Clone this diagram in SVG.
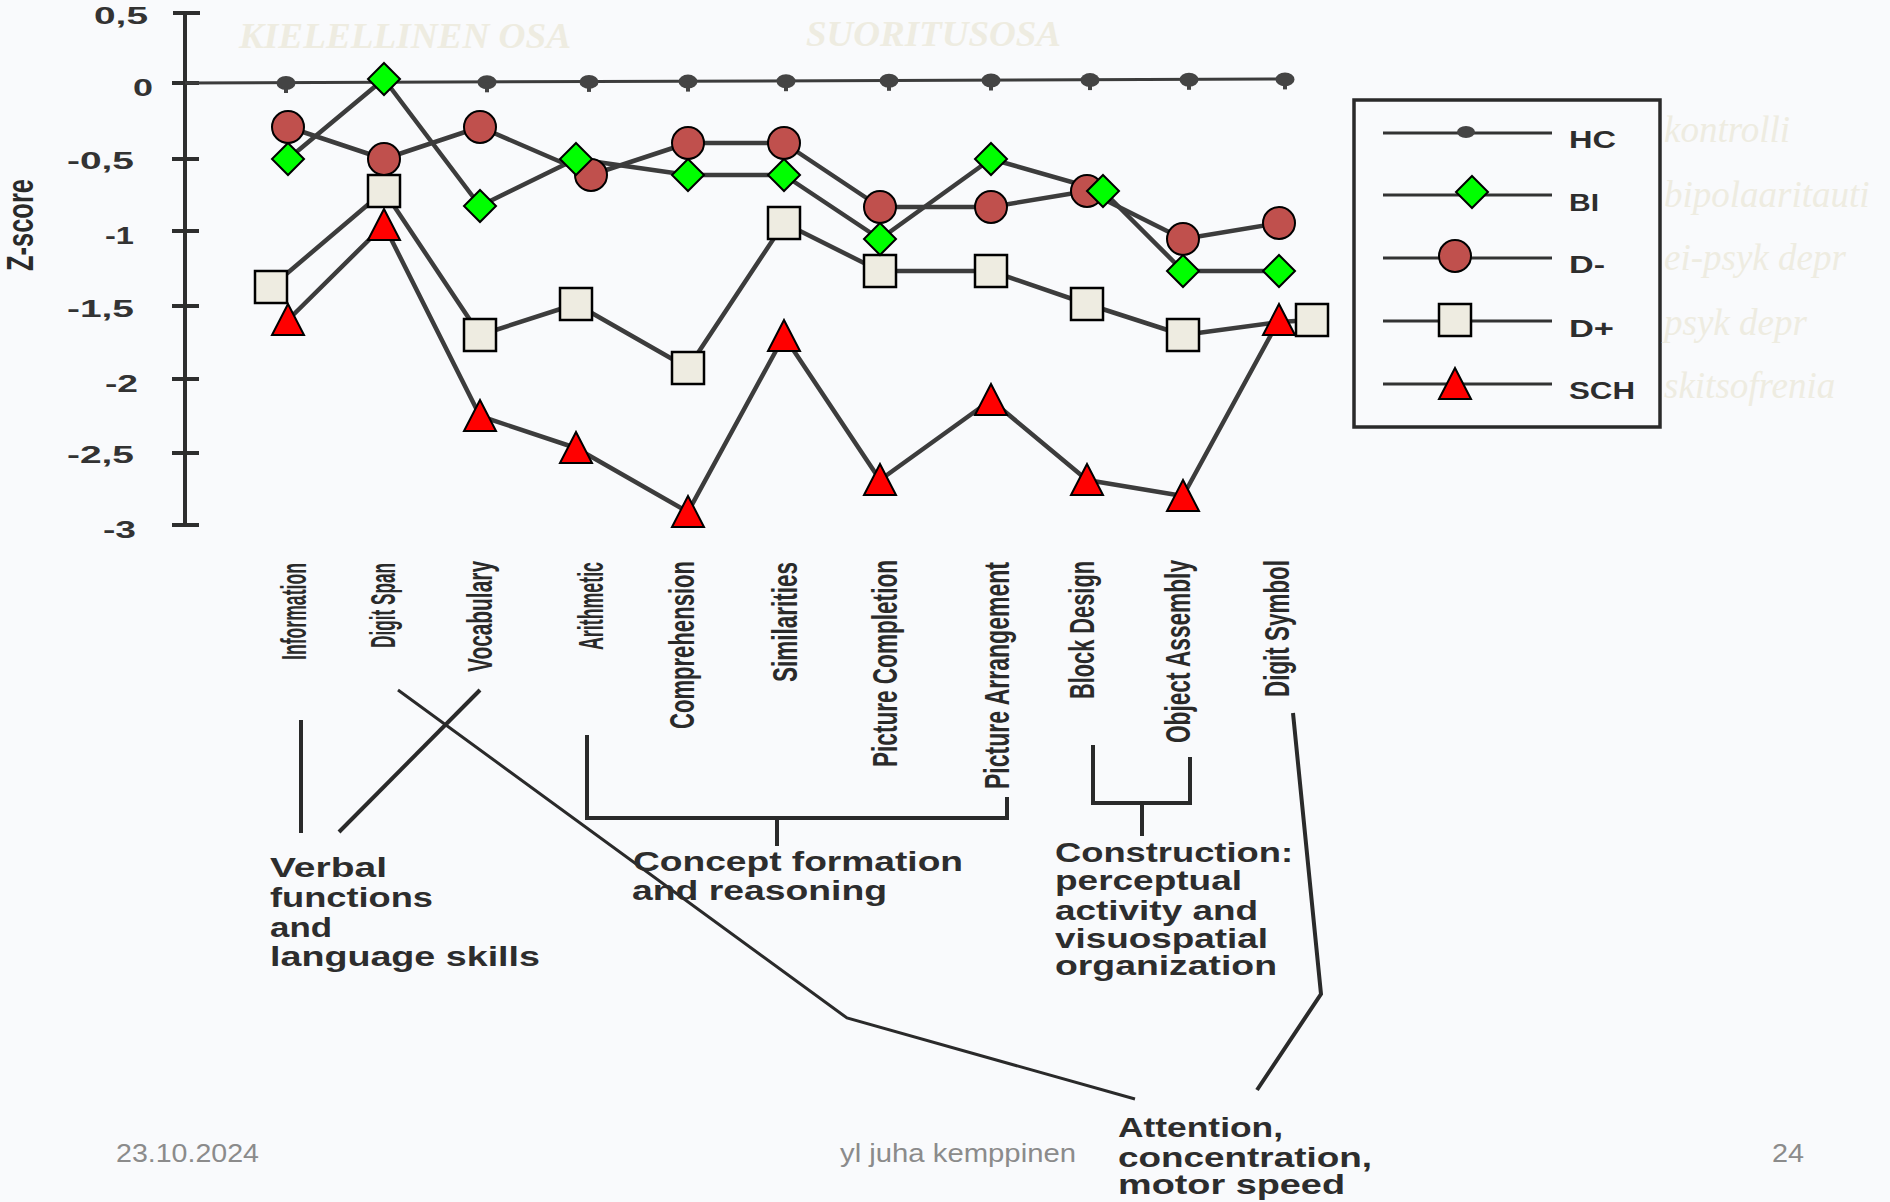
<svg xmlns="http://www.w3.org/2000/svg" width="1890" height="1202" viewBox="0 0 1890 1202">
  <style>
    .axis { stroke: #2e2e2e; stroke-width: 4; fill: none; stroke-linecap: square; }
    .tick { font-family: "Liberation Sans", Arial, sans-serif; font-weight: bold; font-size: 24px; fill: #333; }
    .ytitle { font-family: "Liberation Sans", Arial, sans-serif; font-weight: bold; font-size: 36px; fill: #2a2a2a; }
    .series { stroke: #3c3c3c; stroke-width: 4.5; fill: none; stroke-linejoin: round; }
    .hcline { stroke: #3c3c3c; stroke-width: 3; fill: none; }
    .hcdot { fill: #444; }
    .bi { fill: #00ff00; stroke: #000; stroke-width: 2; }
    .dm { fill: #c0504d; stroke: #000; stroke-width: 2; }
    .dp { fill: #eeece1; stroke: #000; stroke-width: 2.5; }
    .sch { fill: #ff0000; stroke: #000; stroke-width: 2; }
    .cat { font-family: "Liberation Sans", Arial, sans-serif; font-weight: bold; font-size: 35px; fill: #2a2a2a; }
    .grp { font-family: "Liberation Sans", Arial, sans-serif; font-weight: bold; font-size: 28px; fill: #2d2d2d; }
    .leg { font-family: "Liberation Sans", Arial, sans-serif; font-weight: bold; font-size: 24px; fill: #2d2d2d; }
    .legline { stroke: #333; stroke-width: 3; }
    .box { stroke: #2a2a2a; stroke-width: 3.5; fill: none; }
    .ghost { font-family: "Liberation Serif", "Times New Roman", serif; font-style: italic; font-size: 37px; fill: #eeece1; }
    .ghostb { font-family: "Liberation Serif", "Times New Roman", serif; font-style: italic; font-weight: bold; font-size: 36px; fill: #eeece1; }
    .conn { stroke: #2a2a2a; stroke-width: 4; fill: none; stroke-linejoin: miter; }
    .thin { stroke: #2a2a2a; stroke-width: 3; fill: none; }
    .foot { font-family: "Liberation Sans", Arial, sans-serif; font-size: 26px; fill: #8b8b8b; }
  </style>
  <defs>
    <path id="mBI" d="M0,-16 L16,0 L0,16 L-16,0 Z"/>
    <circle id="mDM" r="16"/>
    <rect id="mDP" x="-16" y="-16" width="32" height="32"/>
    <path id="mSCH" d="M0,-16 L16,15 L-16,15 Z"/>
    <g id="hcpin">
      <ellipse cx="0" cy="0" rx="9.5" ry="7"/>
      <rect x="-2" y="0" width="4" height="10"/>
    </g>
  </defs>

  <!-- page -->
  <rect width="1890" height="1202" fill="#f9fafc"/>

  <!-- faint headings over the two test halves -->
  <g id="headings">
    <text class="ghostb" x="239" y="48" textLength="332" lengthAdjust="spacingAndGlyphs">KIELELLINEN OSA</text>
    <text class="ghostb" x="806" y="46" textLength="255" lengthAdjust="spacingAndGlyphs">SUORITUSOSA</text>
  </g>

  <!-- y axis -->
  <g id="y-axis">
    <line class="axis" x1="185" y1="13" x2="185" y2="525"/>
    <path class="axis" d="M175,13H198 M174,83H197 M174,159H197 M174,231H197 M174,306H197 M174,379H197 M174,453H197 M174,525H197"/>
    <text class="tick" x="94" y="24" textLength="54" lengthAdjust="spacingAndGlyphs">0,5</text>
    <text class="tick" x="133" y="96" textLength="20" lengthAdjust="spacingAndGlyphs">0</text>
    <text class="tick" x="67" y="169" textLength="67" lengthAdjust="spacingAndGlyphs">-0,5</text>
    <text class="tick" x="105" y="244" textLength="29" lengthAdjust="spacingAndGlyphs">-1</text>
    <text class="tick" x="67" y="317" textLength="67" lengthAdjust="spacingAndGlyphs">-1,5</text>
    <text class="tick" x="105" y="392" textLength="33" lengthAdjust="spacingAndGlyphs">-2</text>
    <text class="tick" x="67" y="463" textLength="67" lengthAdjust="spacingAndGlyphs">-2,5</text>
    <text class="tick" x="103" y="538" textLength="33" lengthAdjust="spacingAndGlyphs">-3</text>
    <text class="ytitle" transform="translate(33,225) rotate(-90)" text-anchor="middle" textLength="92" lengthAdjust="spacingAndGlyphs">Z-score</text>
  </g>

  <!-- data series -->
  <g id="series-HC">
    <polyline class="hcline" points="185,83 1285,79"/>
    <g class="hcdot">
      <use href="#hcpin" x="286" y="83"/>
      <use href="#hcpin" x="384" y="82.6"/>
      <use href="#hcpin" x="487" y="82.3"/>
      <use href="#hcpin" x="589" y="81.9"/>
      <use href="#hcpin" x="688" y="81.6"/>
      <use href="#hcpin" x="786" y="81.2"/>
      <use href="#hcpin" x="889" y="80.8"/>
      <use href="#hcpin" x="991" y="80.5"/>
      <use href="#hcpin" x="1090" y="80.1"/>
      <use href="#hcpin" x="1189" y="79.8"/>
      <use href="#hcpin" x="1285" y="79.4"/>
    </g>
  </g>

  <g id="series-lines">
    <polyline class="series" points="288,159 384,79 480,206 576,159 688,175 784,175 880,239 991,159 1103,191 1183,271 1279,271"/>
    <polyline class="series" points="288,127 384,159 480,127 591,175 688,143 784,143 880,207 991,207 1087,191 1183,239 1279,223"/>
    <polyline class="series" points="271,287 384,191 480,335 576,304 688,368 784,223 880,271 991,271 1087,304 1183,335 1279,322 1312,320"/>
    <polyline class="series" points="288,320 384,225 480,416 576,448 688,512 784,336 880,480 991,400 1087,480 1183,496 1279,320"/>
  </g>

  <g id="series-Dplus" class="dp">
    <use href="#mDP" x="271" y="287"/>
    <use href="#mDP" x="384" y="191"/>
    <use href="#mDP" x="480" y="335"/>
    <use href="#mDP" x="576" y="304"/>
    <use href="#mDP" x="688" y="368"/>
    <use href="#mDP" x="784" y="223"/>
    <use href="#mDP" x="880" y="271"/>
    <use href="#mDP" x="991" y="271"/>
    <use href="#mDP" x="1087" y="304"/>
    <use href="#mDP" x="1183" y="335"/>
    <use href="#mDP" x="1312" y="320"/>
  </g>
  <g id="series-SCH" class="sch">
    <use href="#mSCH" x="288" y="320"/>
    <use href="#mSCH" x="384" y="225"/>
    <use href="#mSCH" x="480" y="416"/>
    <use href="#mSCH" x="576" y="448"/>
    <use href="#mSCH" x="688" y="512"/>
    <use href="#mSCH" x="784" y="336"/>
    <use href="#mSCH" x="880" y="480"/>
    <use href="#mSCH" x="991" y="400"/>
    <use href="#mSCH" x="1087" y="480"/>
    <use href="#mSCH" x="1183" y="496"/>
    <use href="#mSCH" x="1279" y="320"/>
  </g>
  <g id="series-Dminus" class="dm">
    <use href="#mDM" x="288" y="127"/>
    <use href="#mDM" x="384" y="159"/>
    <use href="#mDM" x="480" y="127"/>
    <use href="#mDM" x="591" y="175"/>
    <use href="#mDM" x="688" y="143"/>
    <use href="#mDM" x="784" y="143"/>
    <use href="#mDM" x="880" y="207"/>
    <use href="#mDM" x="991" y="207"/>
    <use href="#mDM" x="1087" y="191"/>
    <use href="#mDM" x="1183" y="239"/>
    <use href="#mDM" x="1279" y="223"/>
  </g>
  <g id="series-BI" class="bi">
    <use href="#mBI" x="288" y="159"/>
    <use href="#mBI" x="384" y="79"/>
    <use href="#mBI" x="480" y="206"/>
    <use href="#mBI" x="576" y="159"/>
    <use href="#mBI" x="688" y="175"/>
    <use href="#mBI" x="784" y="175"/>
    <use href="#mBI" x="880" y="239"/>
    <use href="#mBI" x="991" y="159"/>
    <use href="#mBI" x="1103" y="191"/>
    <use href="#mBI" x="1183" y="271"/>
    <use href="#mBI" x="1279" y="271"/>
  </g>

  <!-- legend -->
  <g id="legend">
    <rect class="box" x="1354" y="100" width="306" height="327"/>
    <path class="legline" d="M1383,133H1552 M1383,195H1552 M1383,258H1552 M1383,321H1552 M1383,384H1552"/>
    <ellipse cx="1466" cy="132" rx="9" ry="6" fill="#444"/>
    <use href="#mBI" x="1472" y="192" class="bi"/>
    <use href="#mDM" x="1455" y="256" class="dm"/>
    <use href="#mDP" x="1455" y="320" class="dp"/>
    <use href="#mSCH" x="1455" y="384" class="sch"/>
    <text class="leg" x="1569" y="148" textLength="47" lengthAdjust="spacingAndGlyphs">HC</text>
    <text class="leg" x="1569" y="211" textLength="30" lengthAdjust="spacingAndGlyphs">BI</text>
    <text class="leg" x="1569" y="273" textLength="36" lengthAdjust="spacingAndGlyphs">D-</text>
    <text class="leg" x="1569" y="337" textLength="45" lengthAdjust="spacingAndGlyphs">D+</text>
    <text class="leg" x="1569" y="399" textLength="66" lengthAdjust="spacingAndGlyphs">SCH</text>
  </g>
  <g id="legend-notes">
    <text class="ghost" x="1664" y="142">kontrolli</text>
    <text class="ghost" x="1664" y="207">bipolaaritauti</text>
    <text class="ghost" x="1664" y="270">ei-psyk depr</text>
    <text class="ghost" x="1664" y="335">psyk depr</text>
    <text class="ghost" x="1664" y="398">skitsofrenia</text>
  </g>

  <!-- subtest names -->
  <g id="subtests" text-anchor="end">
    <text class="cat" transform="translate(306,563) rotate(-90)" textLength="97" lengthAdjust="spacingAndGlyphs">Information</text>
    <text class="cat" transform="translate(395,563) rotate(-90)" textLength="85" lengthAdjust="spacingAndGlyphs">Digit Span</text>
    <text class="cat" transform="translate(492,561) rotate(-90)" textLength="111" lengthAdjust="spacingAndGlyphs">Vocabulary</text>
    <text class="cat" transform="translate(603,562) rotate(-90)" textLength="88" lengthAdjust="spacingAndGlyphs">Arithmetic</text>
    <text class="cat" transform="translate(694,561) rotate(-90)" textLength="168" lengthAdjust="spacingAndGlyphs">Comprehension</text>
    <text class="cat" transform="translate(797,562) rotate(-90)" textLength="120" lengthAdjust="spacingAndGlyphs">Similarities</text>
    <text class="cat" transform="translate(897,560) rotate(-90)" textLength="207" lengthAdjust="spacingAndGlyphs">Picture Completion</text>
    <text class="cat" transform="translate(1009,562) rotate(-90)" textLength="227" lengthAdjust="spacingAndGlyphs">Picture Arrangement</text>
    <text class="cat" transform="translate(1094,561) rotate(-90)" textLength="138" lengthAdjust="spacingAndGlyphs">Block Design</text>
    <text class="cat" transform="translate(1190,560) rotate(-90)" textLength="183" lengthAdjust="spacingAndGlyphs">Object Assembly</text>
    <text class="cat" transform="translate(1289,560) rotate(-90)" textLength="137" lengthAdjust="spacingAndGlyphs">Digit Symbol</text>
  </g>

  <!-- brackets and leader lines grouping the subtests -->
  <g id="connectors">
    <line class="conn" x1="301" y1="720" x2="301" y2="833"/>
    <line class="conn" x1="480" y1="690" x2="339" y2="832"/>
    <polyline class="thin" points="398,690 847,1018 1135,1099"/>
    <path class="conn" d="M587,735 V818 H1007 V797 M777,818 V846"/>
    <path class="conn" d="M1093,745 V803 H1190 V757 M1142,803 V836"/>
    <polyline class="conn" points="1293,713 1321,994 1257,1090"/>
  </g>

  <!-- ability groups -->
  <g id="group-verbal">
    <text class="grp" x="270" y="877" textLength="117" lengthAdjust="spacingAndGlyphs">Verbal</text>
    <text class="grp" x="270" y="907" textLength="163" lengthAdjust="spacingAndGlyphs">functions</text>
    <text class="grp" x="270" y="937" textLength="62" lengthAdjust="spacingAndGlyphs">and</text>
    <text class="grp" x="270" y="966" textLength="270" lengthAdjust="spacingAndGlyphs">language skills</text>
  </g>
  <g id="group-concept">
    <text class="grp" x="633" y="871" textLength="330" lengthAdjust="spacingAndGlyphs">Concept formation</text>
    <text class="grp" x="632" y="900" textLength="255" lengthAdjust="spacingAndGlyphs">and reasoning</text>
  </g>
  <g id="group-construction">
    <text class="grp" x="1055" y="862" textLength="238" lengthAdjust="spacingAndGlyphs">Construction:</text>
    <text class="grp" x="1055" y="890" textLength="187" lengthAdjust="spacingAndGlyphs">perceptual</text>
    <text class="grp" x="1055" y="920" textLength="203" lengthAdjust="spacingAndGlyphs">activity and</text>
    <text class="grp" x="1055" y="948" textLength="213" lengthAdjust="spacingAndGlyphs">visuospatial</text>
    <text class="grp" x="1055" y="975" textLength="222" lengthAdjust="spacingAndGlyphs">organization</text>
  </g>
  <g id="group-attention">
    <text class="grp" x="1118" y="1137" textLength="165" lengthAdjust="spacingAndGlyphs">Attention,</text>
    <text class="grp" x="1118" y="1167" textLength="254" lengthAdjust="spacingAndGlyphs">concentration,</text>
    <text class="grp" x="1118" y="1194" textLength="227" lengthAdjust="spacingAndGlyphs">motor speed</text>
  </g>

  <!-- slide footer -->
  <g id="footer">
    <text class="foot" x="116" y="1162" textLength="143" lengthAdjust="spacingAndGlyphs">23.10.2024</text>
    <text class="foot" x="840" y="1162" textLength="236" lengthAdjust="spacingAndGlyphs">yl juha kemppinen</text>
    <text class="foot" x="1772" y="1162" textLength="32" lengthAdjust="spacingAndGlyphs">24</text>
  </g>
</svg>
